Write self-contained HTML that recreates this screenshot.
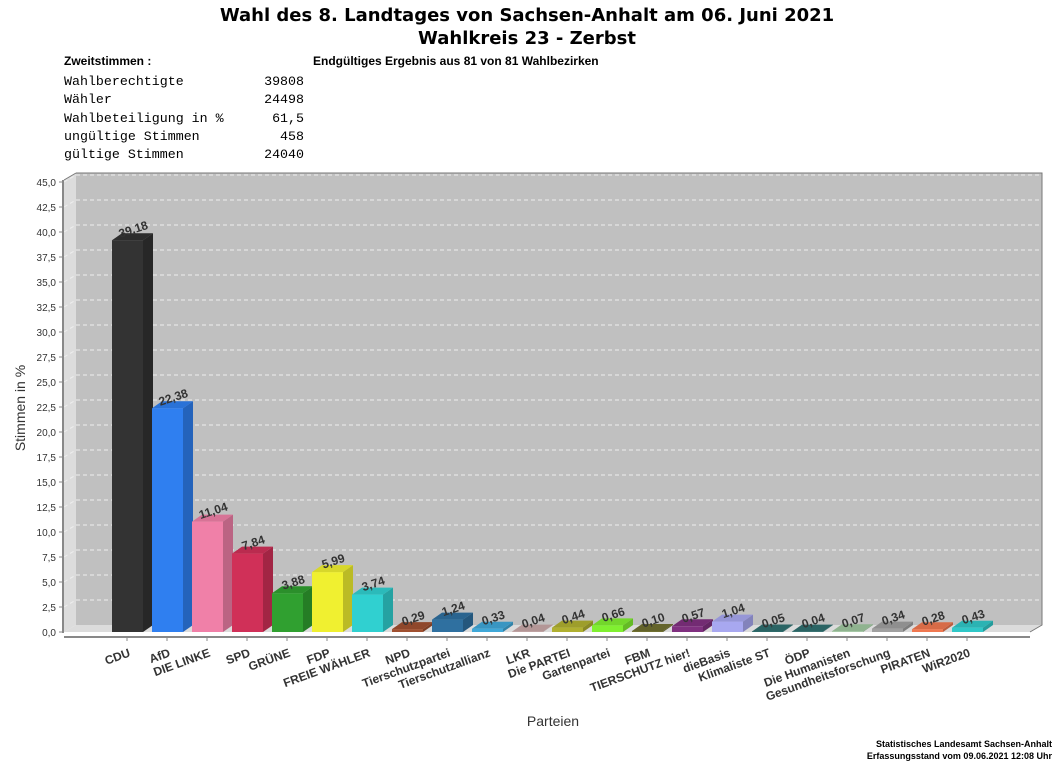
<!DOCTYPE html>
<html><head><meta charset="utf-8"><style>
body{margin:0;background:#fff;width:1054px;height:763px;overflow:hidden;font-family:"Liberation Sans",sans-serif}
</style></head><body>
<svg width="1054" height="763" xmlns="http://www.w3.org/2000/svg" font-family="Liberation Sans, sans-serif">
<text x="527" y="21" text-anchor="middle" font-size="18" font-weight="bold" font-family="DejaVu Sans, sans-serif">Wahl des 8. Landtages von Sachsen-Anhalt am 06. Juni 2021</text>
<text x="527" y="44" text-anchor="middle" font-size="18" font-weight="bold" font-family="DejaVu Sans, sans-serif">Wahlkreis 23 - Zerbst</text>
<text x="64" y="65" font-size="12" font-weight="bold">Zweitstimmen :</text>
<text x="313" y="65" font-size="12" font-weight="bold">Endgültiges Ergebnis aus 81 von 81 Wahlbezirken</text>
<g font-family="Liberation Mono, monospace" font-size="13.3">
<text x="64" y="85">Wahlberechtigte</text><text x="304" y="85" text-anchor="end">39808</text>
<text x="64" y="103">Wähler</text><text x="304" y="103" text-anchor="end">24498</text>
<text x="64" y="122">Wahlbeteiligung in %</text><text x="304" y="122" text-anchor="end">61,5</text>
<text x="64" y="140">ungültige Stimmen</text><text x="304" y="140" text-anchor="end">458</text>
<text x="64" y="158">gültige Stimmen</text><text x="304" y="158" text-anchor="end">24040</text>
</g>
<rect x="76" y="173" width="966" height="452" fill="#c0c0c0"/>
<polygon points="64,180 76,173 76,625 64,632" fill="#dcdcdc"/>
<polygon points="64,632 76,625 1042,625 1030,632" fill="#dcdcdc"/>
<g id="grid" stroke="#eeeeee" stroke-dasharray="4,3" stroke-width="1"></g>
<polyline points="76,173 1042,173 1042,625 1030,632" fill="none" stroke="#777" stroke-width="1"/>
<line x1="64" y1="180" x2="76" y2="173" stroke="#777"/>
<line x1="63" y1="180" x2="63" y2="633" stroke="#888" stroke-width="2"/>
<line x1="64" y1="637" x2="1030" y2="637" stroke="#888" stroke-width="2"/>
<g id="yt" font-size="10" fill="#333"></g>
<g id="bars"></g>
<g id="xl" font-size="12" font-weight="bold" fill="#333"></g>
<text transform="translate(25,408) rotate(-90)" text-anchor="middle" font-size="14" fill="#333">Stimmen in %</text>
<text x="553" y="726" text-anchor="middle" font-size="14" fill="#333">Parteien</text>
<text x="1052" y="747" text-anchor="end" font-size="9" font-weight="bold">Statistisches Landesamt Sachsen-Anhalt</text>
<text x="1052" y="759" text-anchor="end" font-size="9" font-weight="bold">Erfassungsstand vom 09.06.2021 12:08 Uhr</text>
</svg>
<script>
const NS="http://www.w3.org/2000/svg";
function el(p,t,a,txt){const e=document.createElementNS(NS,t);for(const k in a)e.setAttribute(k,a[k]);if(txt!==undefined)e.textContent=txt;p.appendChild(e);return e;}
const grid=document.getElementById('grid'),yt=document.getElementById('yt');
for(let i=0;i<=18;i++){const v=i*2.5,yf=632-v*10,yb=yf-7;
 if(i>0){el(grid,'line',{x1:76,y1:yb,x2:1042,y2:yb});el(grid,'line',{x1:64,y1:yf,x2:76,y2:yb});}
 el(yt,'line',{x1:59,y1:yf,x2:63,y2:yf,stroke:'#888'});
 el(yt,'text',{x:56,y:yf+4,'text-anchor':'end'},v.toFixed(1).replace('.',','));}
const D=[["CDU",39.18,"#333333"],["AfD",22.38,"#2f7ff0"],["DIE LINKE",11.04,"#f080a8"],["SPD",7.84,"#d03058"],["GRÜNE",3.88,"#30a030"],["FDP",5.99,"#f0f030"],["FREIE WÄHLER",3.74,"#30d0d0"],["NPD",0.29,"#a05030"],["Tierschutzpartei",1.24,"#2f70a0"],["Tierschutzallianz",0.33,"#40a8d8"],["LKR",0.04,"#c8a8a8"],["Die PARTEI",0.44,"#b0b030"],["Gartenpartei",0.66,"#80f030"],["FBM",0.10,"#707030"],["TIERSCHUTZ hier!",0.57,"#803080"],["dieBasis",1.04,"#a8a8f0"],["Klimaliste ST",0.05,"#307070"],["ÖDP",0.04,"#307070"],["Die Humanisten",0.07,"#a0c8a0"],["Gesundheitsforschung",0.34,"#a0a0a0"],["PIRATEN",0.28,"#f07850"],["WiR2020",0.43,"#30c8c8"]];
const bars=document.getElementById('bars'),xl=document.getElementById('xl');
D.forEach((d,i)=>{const x=112+40*i,w=31,h=d[1]*10,top=632-h,dx=10,dy=-7;
 el(bars,'polygon',{points:`${x+w},${top} ${x+w+dx},${top+dy} ${x+w+dx},${632+dy} ${x+w},632`,fill:d[2]});
 el(bars,'polygon',{points:`${x+w},${top} ${x+w+dx},${top+dy} ${x+w+dx},${632+dy} ${x+w},632`,fill:'#000','fill-opacity':'0.22'});
 el(bars,'polygon',{points:`${x},${top} ${x+dx},${top+dy} ${x+w+dx},${top+dy} ${x+w},${top}`,fill:d[2]});
 el(bars,'polygon',{points:`${x},${top} ${x+dx},${top+dy} ${x+w+dx},${top+dy} ${x+w},${top}`,fill:'#000','fill-opacity':'0.1'});
 el(bars,'rect',{x:x,y:top,width:w,height:h,fill:d[2]});
 const cx=x+w/2+7,cy=top-7;
 el(bars,'text',{x:cx,y:cy,'text-anchor':'middle','font-size':12,'font-weight':'bold',fill:'#333',transform:`rotate(-18 ${cx} ${cy})`},d[1].toFixed(2).replace('.',','));
 const tx=x+15;el(xl,'line',{x1:tx,y1:637,x2:tx,y2:641,stroke:'#888'});
 const ax=tx+4,ay=656;
 el(xl,'text',{x:ax,y:ay,'text-anchor':'end',transform:`rotate(-20 ${ax} ${ay})`},d[0]);
});
</script>
</body></html>
